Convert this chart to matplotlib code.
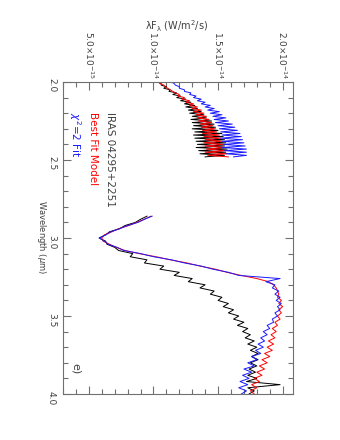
import numpy as np
import matplotlib
matplotlib.use('Agg')
import matplotlib.pyplot as plt
from matplotlib.ticker import MultipleLocator, FixedLocator, FixedFormatter

# wavelength grids (micron) of the two spectral windows
wave_k = np.round(np.arange(2.00, 2.485, 0.01), 2)
wave_l = np.round(np.arange(2.86, 4.005, 0.02), 2)

# lambda F_lambda in units of 1e-14 W/m^2/s
black_k = [1.03, 1.06, 1.06, 1.10, 1.08, 1.13, 1.12, 1.18, 1.15, 1.21,
           1.18, 1.25, 1.21, 1.29, 1.24, 1.32, 1.25, 1.34, 1.27, 1.37,
           1.28, 1.39, 1.30, 1.41, 1.29, 1.45, 1.30, 1.47, 1.31, 1.48,
           1.30, 1.50, 1.32, 1.53, 1.31, 1.54, 1.32, 1.55, 1.33, 1.56,
           1.34, 1.55, 1.33, 1.57, 1.35, 1.56, 1.36, 1.55, 1.40]
red_k = [1.04, 1.05, 1.08, 1.09, 1.11, 1.13, 1.15, 1.17, 1.20, 1.19,
         1.24, 1.22, 1.28, 1.25, 1.31, 1.28, 1.34, 1.30, 1.37, 1.31,
         1.39, 1.33, 1.41, 1.34, 1.43, 1.35, 1.45, 1.36, 1.46, 1.37,
         1.48, 1.38, 1.49, 1.38, 1.51, 1.39, 1.52, 1.40, 1.53, 1.39,
         1.54, 1.40, 1.55, 1.41, 1.56, 1.40, 1.57, 1.42, 1.58]
blue_k = [1.14, 1.16, 1.17, 1.20, 1.20, 1.24, 1.24, 1.29, 1.28, 1.33,
          1.31, 1.37, 1.34, 1.40, 1.37, 1.44, 1.40, 1.47, 1.42, 1.51,
          1.44, 1.53, 1.46, 1.56, 1.47, 1.58, 1.48, 1.61, 1.50, 1.63,
          1.51, 1.65, 1.52, 1.67, 1.53, 1.68, 1.52, 1.69, 1.53, 1.70,
          1.54, 1.71, 1.53, 1.72, 1.55, 1.72, 1.56, 1.72, 1.62]

black_l = [0.95, 0.90, 0.86, 0.78, 0.74, 0.66, 0.63, 0.58,
           0.63, 0.64, 0.70, 0.73, 0.84, 0.82, 0.95, 0.93, 1.08, 1.05,
           1.20, 1.16, 1.30, 1.27, 1.40, 1.36, 1.47, 1.44, 1.53, 1.50,
           1.58, 1.54, 1.62, 1.58, 1.66, 1.62, 1.70, 1.65, 1.73, 1.69,
           1.75, 1.71, 1.78, 1.73, 1.80, 1.75, 1.81, 1.76, 1.81, 1.75,
           1.80, 1.74, 1.79, 1.73, 1.80, 1.72, 1.98, 1.73, 1.78, 1.74]
red_l = [0.98, 0.93, 0.87, 0.81, 0.73, 0.68, 0.62, 0.60,
         0.61, 0.66, 0.71, 0.78, 0.89, 1.02, 1.13, 1.26, 1.36, 1.48,
         1.57, 1.68, 1.80, 1.89, 1.93, 1.95, 1.96, 1.97, 1.96, 1.99,
         1.97, 2.00, 1.97, 1.99, 1.96, 1.98, 1.94, 1.96, 1.92, 1.95,
         1.91, 1.94, 1.89, 1.93, 1.88, 1.92, 1.86, 1.90, 1.84, 1.88,
         1.82, 1.86, 1.80, 1.84, 1.78, 1.82, 1.76, 1.80, 1.75, 1.78]
blue_l = [0.99, 0.93, 0.88, 0.80, 0.74, 0.67, 0.63, 0.58,
          0.62, 0.65, 0.72, 0.77, 0.90, 1.00, 1.14, 1.24, 1.37, 1.46,
          1.58, 1.66, 1.98, 1.87, 1.94, 1.92, 1.97, 1.94, 1.98, 1.95,
          1.99, 1.96, 1.98, 1.94, 1.96, 1.92, 1.93, 1.88, 1.90, 1.85,
          1.88, 1.83, 1.86, 1.81, 1.85, 1.79, 1.83, 1.76, 1.80, 1.73,
          1.78, 1.70, 1.76, 1.69, 1.74, 1.67, 1.73, 1.66, 1.72, 1.68]

flux_ticks = [0.5, 1.0, 1.5, 2.0]
flux_labels = ['5.0×10$^{-15}$', '1.0×10$^{-14}$', '1.5×10$^{-14}$', '2.0×10$^{-14}$']
wave_ticks = [2.0, 2.5, 3.0, 3.5, 4.0]

frame = '#707070'
txt = '#404040'

fig = plt.figure(figsize=(3.4, 4.4), dpi=100)
ax = fig.add_axes([63 / 340, 1 - 394 / 440, 230 / 340, 312 / 440])

# plot is drawn turned by 90 degrees: flux runs across, wavelength runs down
for w, b, r, bl in [(wave_k, black_k, red_k, blue_k), (wave_l, black_l, red_l, blue_l)]:
    ax.plot(b, w, color='black', lw=0.7)
    ax.plot(r, w, color='red', lw=0.7)
    ax.plot(bl, w, color='#1a1aff', lw=0.7)

ax.set_xlim(0.30, 2.08)
ax.set_ylim(4.0, 2.0)

ax.xaxis.set_major_locator(FixedLocator(flux_ticks))
ax.xaxis.set_major_formatter(FixedFormatter(flux_labels))
ax.xaxis.set_minor_locator(MultipleLocator(0.1))
ax.yaxis.set_major_locator(FixedLocator(wave_ticks))
ax.yaxis.set_minor_locator(MultipleLocator(0.1))

ax.tick_params(which='both', direction='in', top=True, bottom=True, left=True, right=True,
               labeltop=True, labelbottom=False, labelleft=True, labelright=False,
               color=frame, width=0.8, labelcolor=txt)
ax.tick_params(which='major', length=6)
ax.tick_params(which='minor', length=3.5)
ax.tick_params(axis='x', pad=2, labelsize=6.5)
ax.tick_params(axis='y', pad=5, labelsize=6.5)
for lab in ax.get_xticklabels():
    lab.set_rotation(-90)
for lab in ax.get_yticklabels():
    lab.set_rotation(-90)
for s in ax.spines.values():
    s.set_color(frame)
    s.set_linewidth(0.8)

ax.text(0.496, 1.18, r'$\mathrm{\lambda F_{\lambda}}$ (W/m$^2$/s)', transform=ax.transAxes,
        ha='center', va='center', fontsize=7, color=txt)
ax.text(-0.092, 0.503, r'Wavelength ($\mu$m)', transform=ax.transAxes,
        ha='center', va='center', rotation=-90, fontsize=6, color=txt)

ax.text(0.664, 2.19, 'IRAS 04295+2251', rotation=-90, ha='center', va='top',
        fontsize=7.5, color=txt)
ax.text(0.532, 2.19, 'Best Fit Model', rotation=-90, ha='center', va='top',
        fontsize=7.5, color='red')
ax.text(0.392, 2.19, r'$\chi^2$=2 Fit', rotation=-90, ha='center', va='top',
        fontsize=7.5, color='#1a1aff')
ax.text(0.40, 3.80, 'e)', rotation=-90, ha='center', va='top',
        fontsize=8, color=txt)

fig.savefig('out.png', dpi=100)
